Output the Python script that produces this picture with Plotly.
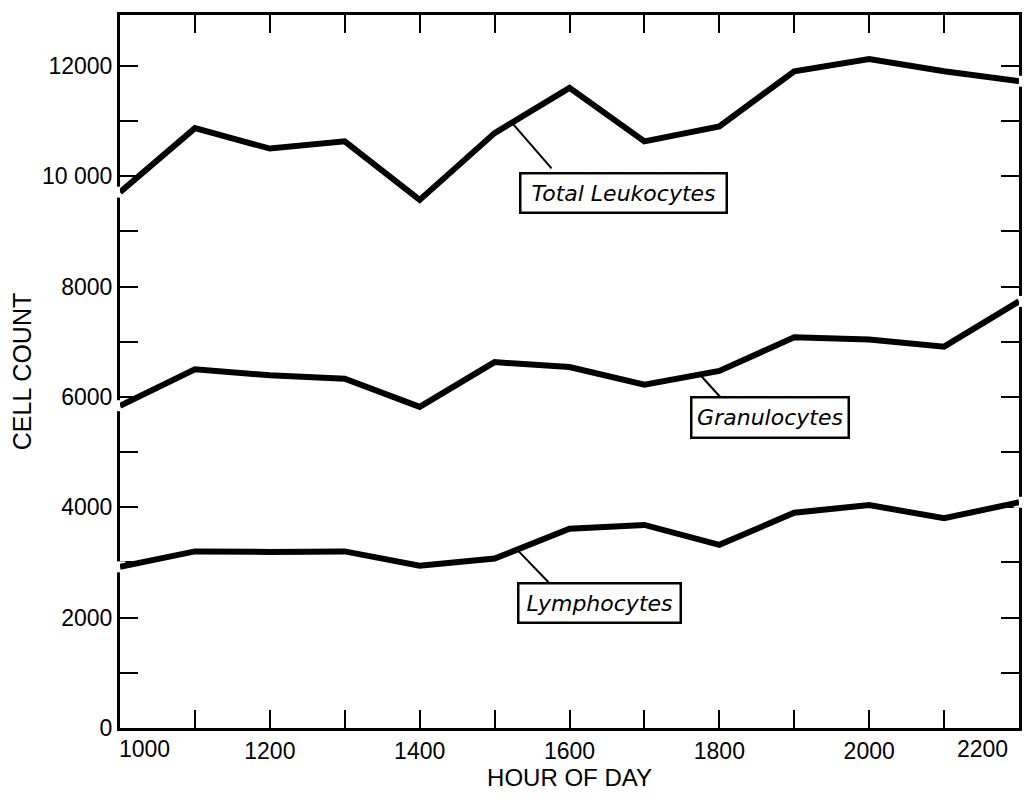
import plotly.graph_objects as go

hours = [1000, 1100, 1200, 1300, 1400, 1500, 1600, 1700, 1800, 1900, 2000, 2100, 2200]
total_leukocytes = [9710, 10870, 10500, 10630, 9570, 10780, 11600, 10630, 10900, 11900, 12120, 11900, 11720]
granulocytes = [5840, 6500, 6390, 6330, 5820, 6630, 6540, 6220, 6470, 7080, 7040, 6910, 7730]
lymphocytes = [2920, 3200, 3190, 3200, 2940, 3070, 3610, 3680, 3320, 3900, 4040, 3800, 4090]

series = [
    ("Total Leukocytes", total_leukocytes),
    ("Granulocytes", granulocytes),
    ("Lymphocytes", lymphocytes),
]

# label boxes: (text, box centre x, box centre y, width px, height px, leader start x, leader end x, leader end y)
labels = [
    ("Total Leukocytes", 1672, 9690, 204, 37, 1523, 1576, 10140),
    ("Granulocytes", 1867, 5620, 155, 38, 1774, 1803, 5970),
    ("Lymphocytes", 1640, 2265, 160, 37, 1530, 1572, 2640),
]

x_tickvals = list(range(1000, 2201, 100))
# end labels are drawn separately (pulled inside the frame, as in the original lettering)
x_ticktext = [str(h) if (h % 200 == 0 and h not in (1000, 2200)) else "" for h in x_tickvals]
y_tickvals = list(range(0, 12001, 1000))
y_ticktext = [("10 000" if v == 10000 else str(v)) if v % 2000 == 0 else "" for v in y_tickvals]

fig = go.Figure()

# white patches where the curves meet the frame (break the axis line)
for name, vals in series:
    fig.add_trace(go.Scatter(
        x=[hours[0], hours[-1]], y=[vals[0], vals[-1]], mode="markers",
        marker=dict(symbol="square", size=11, color="white", line=dict(width=0)),
        cliponaxis=False, showlegend=False, hoverinfo="skip"))

for name, vals in series:
    fig.add_trace(go.Scatter(
        x=hours, y=vals, mode="lines", name=name,
        line=dict(color="black", width=6), showlegend=False))


def interp(xq, xs, ys):
    for i in range(len(xs) - 1):
        if xs[i] <= xq <= xs[i + 1]:
            t = (xq - xs[i]) / (xs[i + 1] - xs[i])
            return ys[i] + t * (ys[i + 1] - ys[i])
    return ys[-1]


for (text, cx, cy, w, h, lx0, lx1, ly1), (_, vals) in zip(labels, series):
    ly0 = interp(lx0, hours, vals)
    fig.add_shape(type="line", xref="x", yref="y", x0=lx0, y0=ly0, x1=lx1, y1=ly1,
                  line=dict(color="black", width=2), layer="above")
    fig.add_annotation(
        x=cx, y=cy, xref="x", yref="y", text="<i>" + text + "</i>", showarrow=False,
        width=w, height=h, bgcolor="white", bordercolor="black", borderwidth=2.5,
        borderpad=0, font=dict(family="DejaVu Sans", size=22, color="black"))

axis_font = dict(family="Liberation Sans", size=23, color="black")

# end tick labels of the hour axis
fig.add_annotation(x=hours[0], y=0, xref="x", yref="paper", text=str(hours[0]),
                   showarrow=False, xanchor="left", yanchor="top", xshift=-3, yshift=-6,
                   font=axis_font)
fig.add_annotation(x=hours[-1], y=0, xref="x", yref="paper", text=str(hours[-1]),
                   showarrow=False, xanchor="right", yanchor="top", xshift=-9, yshift=-6,
                   font=axis_font)

fig.update_xaxes(
    range=[1000, 2200], tickvals=x_tickvals, ticktext=x_ticktext,
    ticks="inside", ticklen=18, tickwidth=2, tickcolor="black",
    showline=True, linewidth=3, linecolor="black", mirror="ticks",
    showgrid=False, zeroline=False, layer="below traces",
    tickfont=axis_font,
    title=dict(text="HOUR OF DAY", font=dict(family="Liberation Sans", size=24, color="black"), standoff=4),
)
fig.update_yaxes(
    range=[0, 12920], tickvals=y_tickvals, ticktext=y_ticktext,
    ticks="inside", ticklen=18, tickwidth=2, tickcolor="black",
    showline=True, linewidth=3, linecolor="black", mirror="ticks",
    showgrid=False, zeroline=False, layer="below traces",
    tickfont=axis_font,
    title=dict(text="CELL COUNT", font=dict(family="Liberation Sans", size=25, color="black"), standoff=8),
)

fig.update_layout(
    width=1020, height=783,
    margin=dict(l=112, r=9, t=4, b=63),
    paper_bgcolor="white", plot_bgcolor="white",
    showlegend=False,
)

fig.write_html("out.html")
